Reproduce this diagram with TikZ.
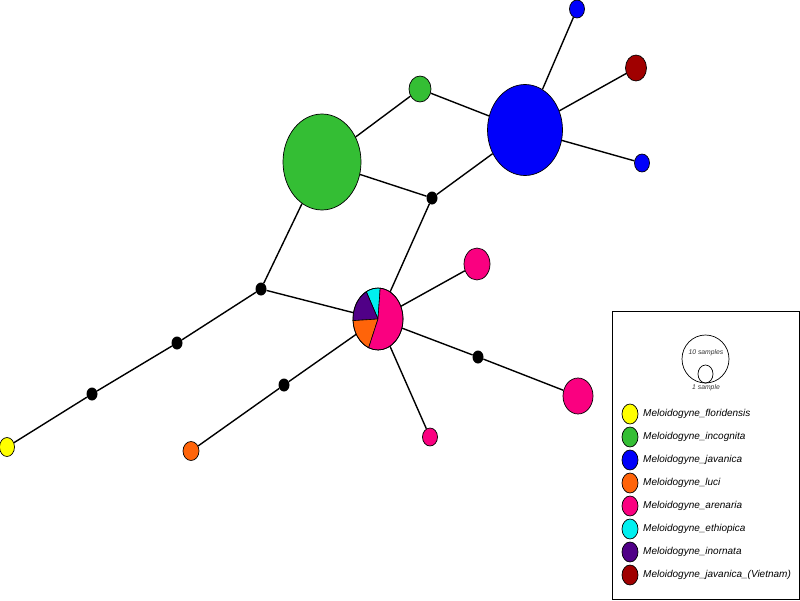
\documentclass[tikz,border=0pt]{standalone}
\usepackage{fontspec}
\setmainfont{Liberation Sans}
\usetikzlibrary{shapes.geometric}
\definecolor{cyel}{RGB}{255,255,0}
\definecolor{cgrn}{RGB}{52,190,52}
\definecolor{cblu}{RGB}{0,0,250}
\definecolor{corg}{RGB}{255,100,10}
\definecolor{cmag}{RGB}{250,0,128}
\definecolor{ccyn}{RGB}{0,240,240}
\definecolor{cpur}{RGB}{80,0,135}
\definecolor{cred}{RGB}{160,0,0}
\tikzset{
  hap/.style={ellipse, draw=black, line width=0.7pt, inner sep=0pt, fill=#1},
  dotn/.style={ellipse, fill=black, inner sep=0pt, minimum width=11pt, minimum height=13pt},
  link/.style={line width=1.4pt, black},
  legtext/.style={anchor=west, font=\itshape\fontsize{10}{12}\selectfont, inner sep=0pt},
  smalltext/.style={font=\itshape\fontsize{6.8}{8}\selectfont, inner sep=0pt, text=black!80}
}
\begin{document}
\begin{tikzpicture}[x=1pt, y=-1pt]
\useasboundingbox (0,0) rectangle (800,600);
\fill[white] (0,0) rectangle (800,600);
% haplotype nodes
\node[hap=cgrn, minimum width=78pt, minimum height=96pt] (G1) at (322,162) {};
\node[hap=cgrn, minimum width=22pt, minimum height=26pt] (G2) at (420,89) {};
\node[hap=cblu, minimum width=75pt, minimum height=91pt] (B1) at (525,130) {};
\node[hap=cblu, minimum width=15pt, minimum height=18pt] (B2) at (577,9) {};
\node[hap=cred, minimum width=21pt, minimum height=26pt] (R1) at (636,68) {};
\node[hap=cblu, minimum width=15pt, minimum height=18pt] (B3) at (642,163) {};
\node[hap=cmag, minimum width=26pt, minimum height=32pt] (M1) at (477,264) {};
\node[hap=cmag, minimum width=30pt, minimum height=36pt] (M2) at (578,396) {};
\node[hap=cmag, minimum width=15pt, minimum height=18pt] (M3) at (430,437) {};
\node[hap=cyel, minimum width=15pt, minimum height=19pt] (Y1) at (7,447) {};
\node[hap=corg, minimum width=16pt, minimum height=19pt] (O1) at (191,451) {};
\node[ellipse, inner sep=0pt, minimum width=50pt, minimum height=62pt] (P) at (378,319) {};
% median vectors
\node[dotn] (d1) at (432,198) {};
\node[dotn] (d2) at (261,289) {};
\node[dotn] (d3) at (177,343) {};
\node[dotn] (d4) at (92,394) {};
\node[dotn] (d5) at (284,385) {};
\node[dotn] (d6) at (478,357) {};
% links
\draw[link] (Y1) -- (d4) -- (d3) -- (d2) -- (P);
\draw[link] (d2) -- (G1);
\draw[link] (G1) -- (G2) -- (B1);
\draw[link] (G1) -- (d1) -- (B1);
\draw[link] (d1) -- (P);
\draw[link] (B1) -- (B2);
\draw[link] (B1) -- (R1);
\draw[link] (B1) -- (B3);
\draw[link] (P) -- (M1);
\draw[link] (P) -- (d6) -- (M2);
\draw[link] (P) -- (M3);
\draw[link] (P) -- (d5) -- (O1);
% pie chart
\begin{scope}[shift={(378,319)}]
\filldraw[fill=ccyn, draw=black, line width=0.6pt] (0,0) -- (85:25pt and 31pt) arc[start angle=85, end angle=118, x radius=25pt, y radius=31pt] -- cycle;
\filldraw[fill=cpur, draw=black, line width=0.6pt] (0,0) -- (118:25pt and 31pt) arc[start angle=118, end angle=183, x radius=25pt, y radius=31pt] -- cycle;
\filldraw[fill=corg, draw=black, line width=0.6pt] (0,0) -- (183:25pt and 31pt) arc[start angle=183, end angle=248, x radius=25pt, y radius=31pt] -- cycle;
\filldraw[fill=cmag, draw=black, line width=0.6pt] (0,0) -- (248:25pt and 31pt) arc[start angle=248, end angle=445, x radius=25pt, y radius=31pt] -- cycle;
\draw[line width=0.7pt] (0,0) ellipse[x radius=25pt, y radius=31pt];
\end{scope}
% legend
\node[draw=black, line width=0.8pt, minimum width=187pt, minimum height=288pt, inner sep=0pt] (L) at (705.5,455) {};
\node[ellipse, draw=black, line width=0.7pt, inner sep=0pt, minimum width=47pt, minimum height=48pt] (S10) at (705.5,359) {};
\node[ellipse, draw=black, line width=0.7pt, inner sep=0pt, minimum width=15pt, minimum height=18pt] (S1) at (705.5,374) {};
\node[smalltext] (t10) at (706,353) {10 samples};
\node[smalltext] (t1) at (706,388) {1 sample};
\foreach \c/\t [count=\i] in {cyel/floridensis, cgrn/incognita, cblu/javanica, corg/luci, cmag/arenaria, ccyn/ethiopica, cpur/inornata, cred/javanica\_(Vietnam)}{
  \node[hap=\c, minimum width=16pt, minimum height=20pt] (k\i) at (630,{414+23*(\i-1)}) {};
  \node[legtext] (l\i) at (643,{414+23*(\i-1)}) {Meloidogyne\_\t};
}
\end{tikzpicture}
\end{document}
